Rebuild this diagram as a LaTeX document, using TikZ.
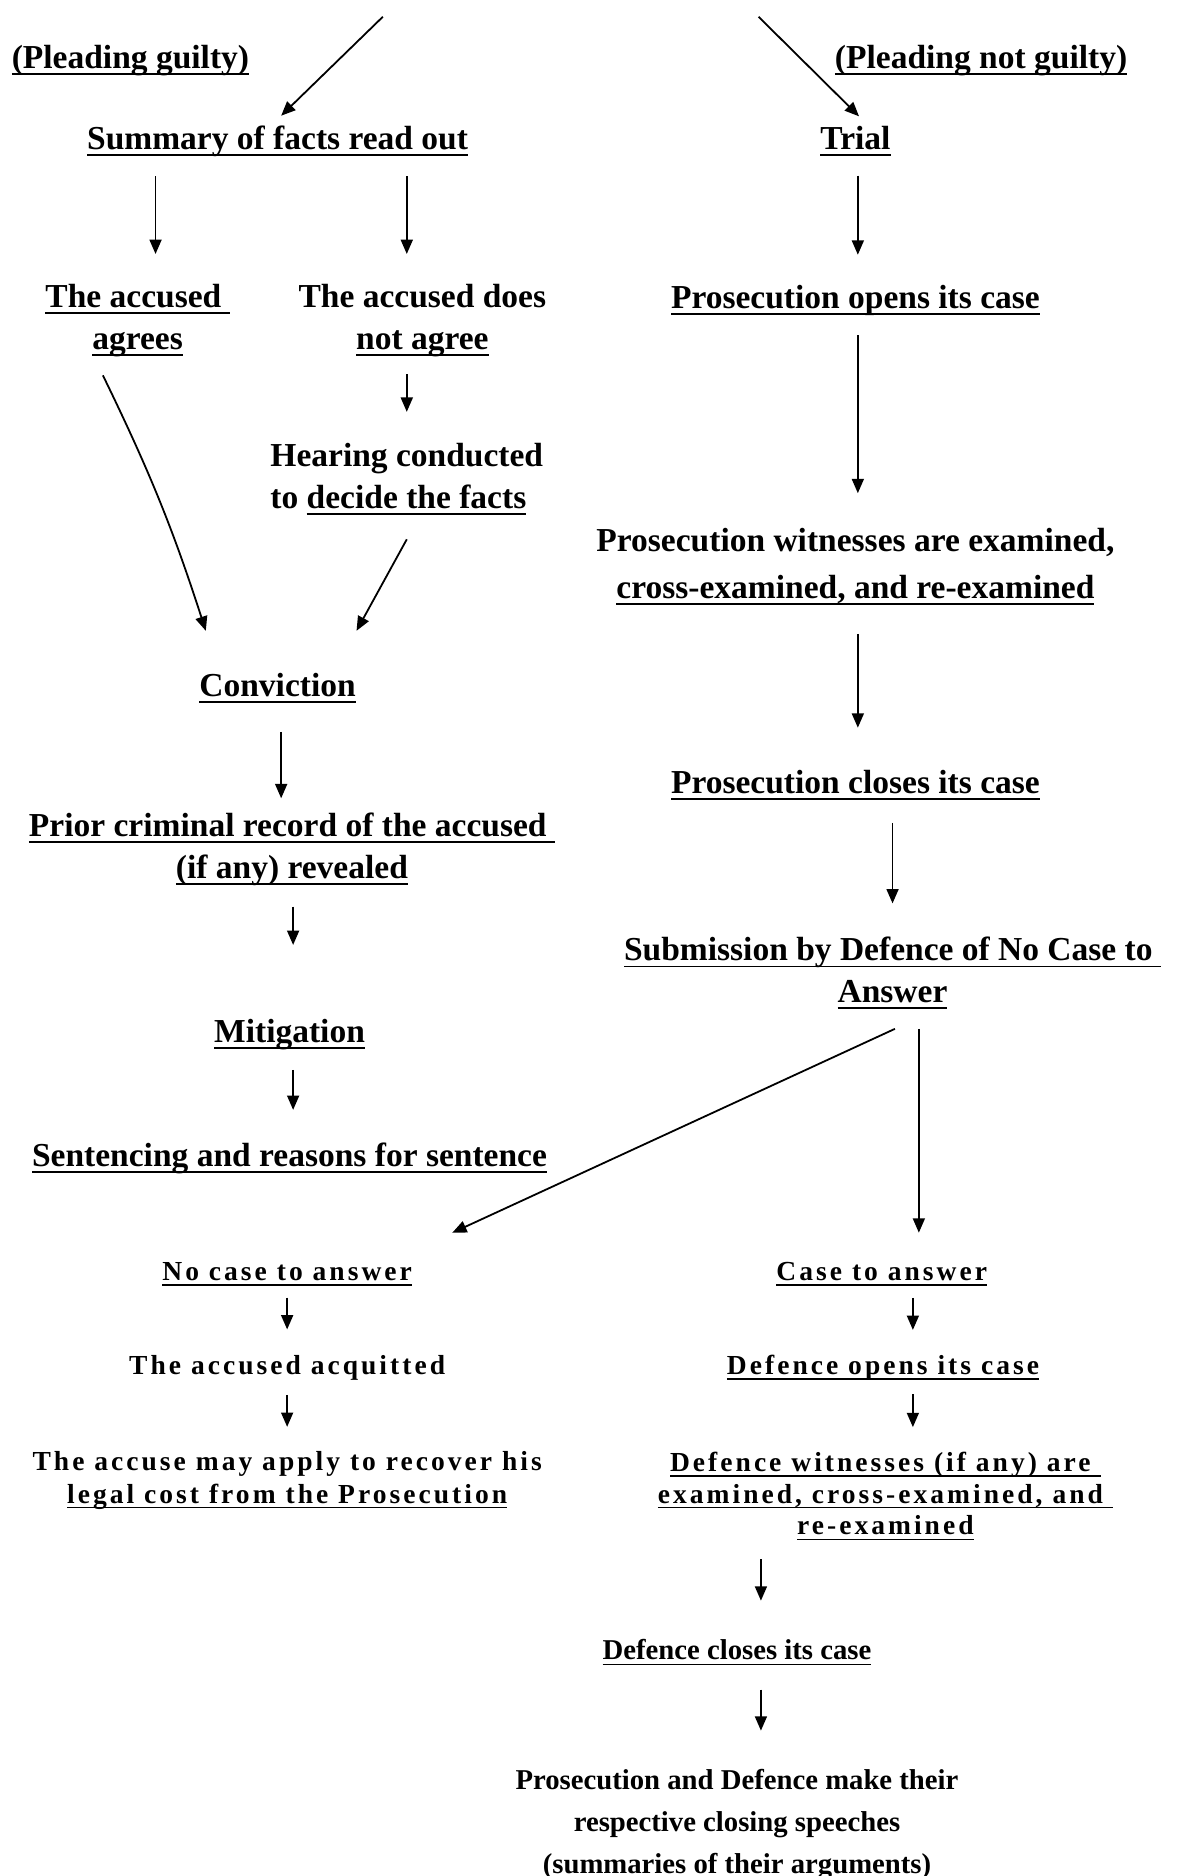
\documentclass[tikz,border=0pt]{standalone}
\usepackage{fontspec}
\setmainfont{Liberation Serif}
\newfontfamily\spacedfont{Liberation Serif}[LetterSpace=11]
\usetikzlibrary{arrows.meta}
\usetikzlibrary{positioning}

% underline that runs a little below the baseline
\newcommand\undl[1]{\setbox0=\hbox{#1}\rlap{\rule[-0.19em]{\wd0}{0.055em}}\box0}

\begin{document}
\begin{tikzpicture}[x=0.5pt, y=-0.5pt,
    txt/.style={font={\bfseries\fontsize{14}{17.5}\selectfont}, align=center, inner sep=0pt, yshift=-1.5pt},
    midtxt/.style={font={\bfseries\fontsize{12}{17.5}\selectfont}, align=center, inner sep=0pt, yshift=-1.5pt},
    smalltxt/.style={font={\spacedfont\bfseries\fontsize{11.5}{13.5}\selectfont}, align=center, inner sep=0pt, yshift=-1.5pt},
    arr/.style={-{Triangle[length=6pt, width=5pt]}, line width=0.75pt}]
  \path[use as bounding box, fill=white] (0,0) rectangle (984,1568);

  % guilty side
  \coordinate (topL) at (320,14);
  \node[txt] (plg) at (109,48) {\undl{(Pleading guilty)}};
  \node[txt] (summ) at (232,115) {\undl{Summary of facts read out}};
  \node[txt] (agr) at (115,265) {\undl{The accused\ }\\\undl{agrees}};
  \node[txt] (nagr) at (353,265) {The accused does\\\undl{not agree}};
  \node[txt, align=left] (hear) at (340,397.5) {Hearing conducted\\to \undl{decide the facts}};
  \node[txt] (conv) at (232,572) {\undl{Conviction}};
  \node[txt] (prior) at (244,707) {\undl{Prior criminal record of the accused\ }\\\undl{(if any) revealed}};
  \node[txt] (mitig) at (242,862) {\undl{Mitigation}};
  \node[txt] (sent) at (242,965) {\undl{Sentencing and reasons for sentence}};

  % not guilty side
  \coordinate (topR) at (634,14);
  \node[txt] (plng) at (820,48) {\undl{(Pleading not guilty)}};
  \node[txt] (trial) at (715,115) {\undl{Trial}};
  \node[txt] (popen) at (715,248) {\undl{Prosecution opens its case}};
  \node[txt] (pwit) at (715,470.5) {Prosecution witnesses are examined,\\[2pt]\undl{cross-examined, and re-examined}};
  \node[txt] (pclose) at (715,653) {\undl{Prosecution closes its case}};
  \node[txt] (subm) at (746,810.5) {\undl{Submission by Defence of No Case to\ }\\\undl{Answer}};

  \node[smalltxt] (nocase) at (240,1062) {\undl{No case to answer}};
  \node[smalltxt] (acq) at (240,1140) {The accused acquitted};
  \node[smalltxt] (recov) at (240,1234.5) {The accuse may apply to recover his\\\undl{legal cost from the Prosecution}};

  \node[smalltxt] (cta) at (737,1062) {\undl{Case to answer}};
  \node[smalltxt] (dopen) at (738,1140) {\undl{Defence opens its case}};
  \node[smalltxt, font={\spacedfont\bfseries\fontsize{11.5}{13.25}\selectfont}] (dwit) at (740,1247.5)
    {\undl{Defence witnesses (if any) are\ }\\\undl{examined, cross-examined, and\ }\\\undl{re-examined}};
  \node[midtxt] (dclose) at (616,1378) {\undl{Defence closes its case}};
  \node[midtxt] (speech) at (616,1522) {Prosecution and Defence make their\\respective closing speeches\\(summaries of their arguments)};

  % straight arrows: from/to/x/gap at start/gap at end
  \foreach \from/\to/\x/\s/\e in {
    summ/agr/130/8/12.5, summ/nagr/340/8/12.5, trial/popen/717/8/12.5,
    nagr/hear/340/7/13, popen/pwit/717/8/14.5, conv/prior/235/12/6,
    prior/mitig/245/8.5/31, mitig/sent/245/8/13.5, pwit/pclose/717/12/17.5,
    pclose/subm/746/9.5/14, subm/cta/768/8/12.25, nocase/acq/240/4.75/10.5,
    acq/recov/240/6/10.25, cta/dopen/763/4.75/10.25, dopen/dwit/763/5.75/10.25,
    dwit/dclose/636/7.75/16, dclose/speech/636/10/16
  }{
    \draw[arr, shorten <=\s pt, shorten >=\e pt] (\x,0 |- \from.south) -- (\x,0 |- \to.north);
  }

  % slanted arrows
  \draw[arr] (topL) -- ([xshift=1.5pt, yshift=4pt]summ.north);
  \draw[arr] (topR) -- ([xshift=1.5pt, yshift=4pt]trial.north);
  \draw[arr] ([xshift=-14.5pt, yshift=-7.5pt]agr.south) to[bend left=4] ([xshift=-30pt, yshift=17.5pt]conv.north);
  \draw[arr] ([yshift=-10pt]hear.south) -- ([xshift=33pt, yshift=17.5pt]conv.north);
  \draw[arr] ([xshift=1pt, yshift=-8pt]subm.south) -- ([xshift=69pt, yshift=12.25pt]nocase.north);
\end{tikzpicture}
\end{document}
